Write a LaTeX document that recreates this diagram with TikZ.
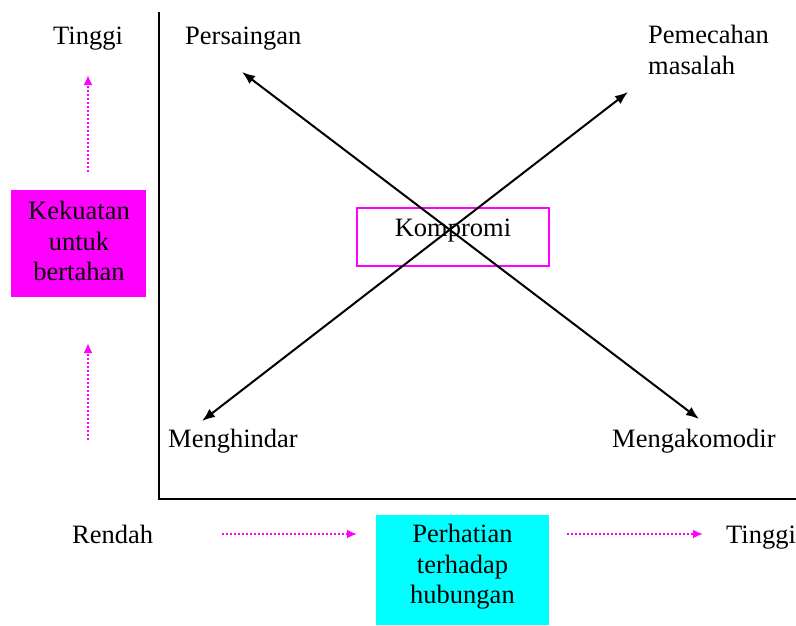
\documentclass[tikz,border=0pt]{standalone}
\usepackage{fontspec}
\setmainfont{Liberation Serif}
\usetikzlibrary{arrows.meta}
\definecolor{mag}{HTML}{FF00FF}
\definecolor{cyn}{HTML}{00FFFF}
\begin{document}
\begin{tikzpicture}[x=1pt,y=-1pt,
  every node/.style={font=\fontsize{26.5}{30.5}\selectfont, inner sep=0pt},
  lbl/.style={anchor=base west},
  axis/.style={line width=2pt},
  cross/.style={line width=2pt, {Latex[length=13pt,width=10pt]}-{Latex[length=13pt,width=10pt]}},
  hint/.style={mag, line width=2pt, dash pattern=on 2pt off 2pt, -{Latex[length=10pt,width=9pt]}},
  fillbox/.style={align=center, minimum width=#1},
]
\useasboundingbox (0,0) rectangle (796,625);

% axes
\coordinate (top) at (159,12);
\coordinate (org) at (159,499);
\coordinate (rgt) at (796,499);
\draw[axis] (top) -- (org) -- (rgt);

% vertical scale
\node[anchor=base] (vhigh) at (88,44) {Tinggi};
\node[fill=mag, minimum width=135pt, minimum height=107pt] (vbox) at (78.5,243.5) {};
\node[align=center] (vtxt) at (79,241) {Kekuatan\\untuk\\bertahan};
\coordinate (va1) at (88,172);
\coordinate (va1t) at (88,75);
\coordinate (va2) at (88,440);
\coordinate (va2t) at (88,343);
\draw[hint] (va1) -- (va1t);
\draw[hint] (va2) -- (va2t);

% horizontal scale
\node[lbl] (hlow) at (72,543) {Rendah};
\node[lbl] (hhigh) at (726,543) {Tinggi};
\node[fill=cyn, minimum width=173pt, minimum height=110pt] (hbox) at (462.5,570) {};
\node[align=center] (htxt) at (462.5,567) {Perhatian\\terhadap\\hubungan};
\coordinate (ha1) at (222,534);
\coordinate (ha1t) at (357,534);
\coordinate (ha2) at (567,534);
\coordinate (ha2t) at (703,534);
\draw[hint] (ha1) -- (ha1t);
\draw[hint] (ha2) -- (ha2t);

% styles
\node[lbl] (pers) at (185,44) {Persaingan};
\node[lbl, align=left, anchor=north west] (peme) at (648,25) {Pemecahan\\masalah};
\node[lbl] (meng) at (168,447) {Menghindar};
\node[lbl] (mako) at (612,447) {Mengakomodir};
\node[draw=mag, line width=1.5pt, minimum width=192pt, minimum height=58pt] (kbox) at (453,237) {};
\node[anchor=base] (ktxt) at (453,236) {Kompromi};

% crossing arrows
\coordinate (c1a) at (242,72);
\coordinate (c1b) at (699,419);
\coordinate (c2a) at (202,421);
\coordinate (c2b) at (628,92);
\draw[cross] (c1a) -- (c1b);
\draw[cross] (c2a) -- (c2b);
\end{tikzpicture}
\end{document}
